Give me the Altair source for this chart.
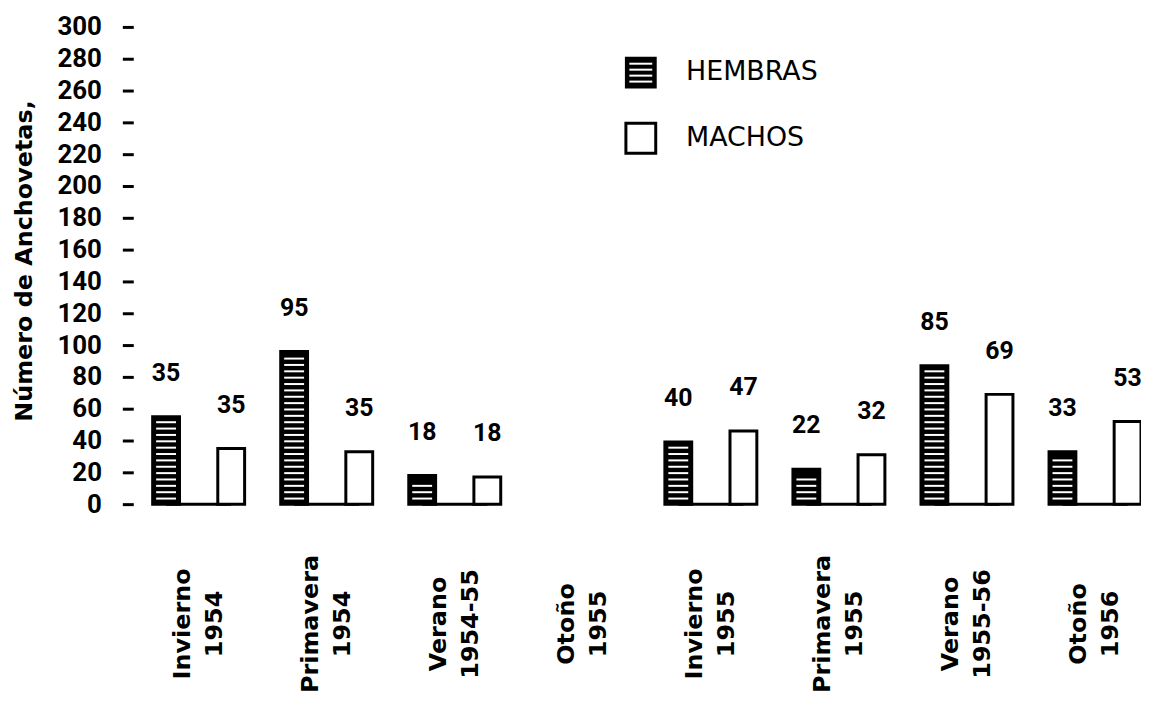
import altair as alt
import pandas as pd

categories = ["Invierno 1954", "Primavera 1954", "Verano 1954-55", "Otoño 1955",
              "Invierno 1955", "Primavera 1955", "Verano 1955-56", "Otoño 1956"]
sexes = ["Hembras", "Machos"]
# bar heights as drawn
hembras_bar = [55, 96, 18, None, 39, 22, 87, 33]
machos_bar = [35, 33, 17, None, 46, 31, 69, 52]
# numbers printed above the bars
hembras_label = [35, 95, 18, None, 40, 22, 85, 33]
machos_label = [35, 35, 18, None, 47, 32, 69, 53]
y_ticks = list(range(0, 301, 20))

rows = []
for c, hb, mb, hl, ml in zip(categories, hembras_bar, machos_bar, hembras_label, machos_label):
    if hb is None:
        continue
    rows.append({"cat": c, "sexo": "Hembras", "h": hb, "lbl": str(hl)})
    rows.append({"cat": c, "sexo": "Machos", "h": mb, "lbl": str(ml)})
df = pd.DataFrame(rows)
df_h = df[df["sexo"] == "Hembras"]
df_groups = pd.DataFrame({"cat": [c for c, hb in zip(categories, hembras_bar) if hb is not None]})

NUM_FONT = "Roboto"
TXT_FONT = "DejaVu Sans"

x_enc = alt.X("cat:N",
              scale=alt.Scale(domain=categories, paddingInner=0.28183, paddingOuter=0),
              axis=alt.Axis(domain=False, ticks=False, grid=False, labelAngle=270,
                            labelAlign="center", labelBaseline="middle", labelPadding=120,
                            labelOffset=-16,
                            labelExpr="split(datum.label, ' ')", labelLineHeight=32,
                            labelFont=TXT_FONT, labelFontSize=24, labelFontWeight="bold",
                            labelColor="black", labelOverlap=False, labelLimit=0),
              title=None)
xo_enc = alt.XOffset("sexo:N", scale=alt.Scale(domain=sexes, paddingInner=0.5878, paddingOuter=0))
y_scale = alt.Scale(domain=[0, 300], nice=False, zero=True)
y_axis = alt.Axis(values=y_ticks, domain=False, grid=False, tickSize=11, tickWidth=3,
                  tickColor="black", labelPadding=21, offset=19.5,
                  labelFont=NUM_FONT, labelFontSize=26, labelFontWeight="bold", labelColor="black",
                  title="Número de  Anchovetas,", titleFont=TXT_FONT, titleFontSize=24,
                  titleFontWeight="bold", titleColor="black", titleAngle=270,
                  titleAlign="center", titleBaseline="middle", titleX=-109, titleY=235)

baseline = alt.Chart(df_groups).transform_calculate(zero="0").mark_tick(
    color="black", opacity=1, thickness=3, size=65.5).encode(
    x=x_enc, y=alt.Y("zero:Q", scale=y_scale, axis=y_axis))

bars = alt.Chart(df).mark_bar(stroke="black", strokeWidth=3, opacity=1).encode(
    x=x_enc, xOffset=xo_enc,
    y=alt.Y("h:Q", scale=y_scale, axis=y_axis),
    color=alt.Color("sexo:N", scale=alt.Scale(domain=sexes, range=["black", "white"]), legend=None))

stripes = alt.Chart(df_h).transform_calculate(
    s="sequence(3.5, datum.h - 3, 4)").transform_flatten(["s"]).mark_tick(
    color="white", opacity=1, thickness=2, size=20).encode(
    x=x_enc, xOffset=xo_enc, y=alt.Y("s:Q", scale=y_scale, axis=y_axis))

labels = alt.Chart(df).mark_text(dy=-44, font=NUM_FONT, fontSize=25, fontWeight="bold",
                                 color="black").encode(
    x=x_enc, xOffset=xo_enc, y=alt.Y("h:Q", scale=y_scale, axis=y_axis), text="lbl:N")

one = pd.DataFrame({"a": [0]})
leg_h_box = alt.Chart(one).mark_rect(fill="black", stroke="black", strokeWidth=2).encode(
    x=alt.value(476), x2=alt.value(506), y=alt.value(31), y2=alt.value(61))
leg_stripes = alt.Chart(pd.DataFrame({"py": [37, 43, 49, 55]})).mark_rule(
    color="white", strokeWidth=2).encode(
    x=alt.value(479.5), x2=alt.value(502.5), y=alt.Y("py:Q", scale=None, axis=None))
leg_m_box = alt.Chart(one).mark_rect(fill="white", stroke="black", strokeWidth=3).encode(
    x=alt.value(476), x2=alt.value(506), y=alt.value(97), y2=alt.value(127))
leg_h_txt = alt.Chart(one).mark_text(align="left", baseline="middle", font=TXT_FONT,
                                     fontSize=27, color="black").encode(
    x=alt.value(536.5), y=alt.value(45), text=alt.value("HEMBRAS"))
leg_m_txt = alt.Chart(one).mark_text(align="left", baseline="middle", font=TXT_FONT,
                                     fontSize=27, color="black").encode(
    x=alt.value(536.5), y=alt.value(112), text=alt.value("MACHOS"))

chart = alt.layer(baseline, bars, stripes, labels,
                  leg_h_box, leg_stripes, leg_m_box, leg_h_txt, leg_m_txt).properties(
    width=994.1, height=480,
    autosize=alt.AutoSizeParams(type="none"),
    padding={"left": 145.5, "top": 17, "right": 0, "bottom": 200},
    background="white",
).configure_view(stroke=None)

chart.save("out.html", embed_options={"renderer": "svg", "actions": False})
